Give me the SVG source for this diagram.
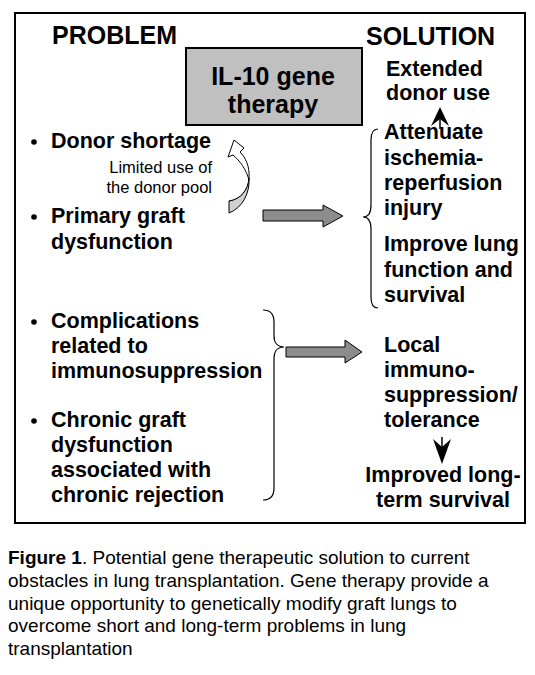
<svg xmlns="http://www.w3.org/2000/svg" width="535" height="675" viewBox="0 0 535 675">
<style>
text{font-family:"Liberation Sans",Arial,sans-serif;fill:#000}
.h{font-size:25px;font-weight:bold}
.b{font-size:21.5px;font-weight:bold}
.s{font-size:16.5px}
.c{font-size:19px}
.blk{fill:#8c8c8c;stroke:#000;stroke-width:1}
.br{fill:none;stroke:#000;stroke-width:1.2}
</style>
<rect width="535" height="675" fill="#fff"/>
<rect id="frame" x="15" y="13" width="510" height="510" fill="none" stroke="#000" stroke-width="2"/>
<g id="headings">
<text class="h" x="52" y="44">PROBLEM</text>
<text class="h" x="366" y="45">SOLUTION</text>
</g>
<g id="il10">
<rect x="186" y="48" width="176" height="77" fill="#c0c0c0" stroke="#000" stroke-width="2"/>
<text class="h" x="273" y="85" text-anchor="middle">IL-10 gene</text>
<text class="h" x="273" y="113" text-anchor="middle">therapy</text>
</g>
<g id="problem-donor">
<circle cx="34" cy="142" r="2.8"/>
<text class="b" x="51" y="148">Donor shortage</text>
<text class="s" x="212" y="173" text-anchor="end">Limited use of</text>
<text class="s" x="212" y="193" text-anchor="end">the donor pool</text>
</g>
<g id="problem-pgd">
<circle cx="34" cy="217" r="2.8"/>
<text class="b" x="51" y="223">Primary graft</text>
<text class="b" x="51" y="249">dysfunction</text>
</g>
<g id="problem-complications">
<circle cx="34" cy="322" r="2.8"/>
<text class="b" x="51" y="328">Complications</text>
<text class="b" x="51" y="353">related to</text>
<text class="b" x="51" y="378">immunosuppression</text>
</g>
<g id="problem-chronic">
<circle cx="34" cy="421" r="2.8"/>
<text class="b" x="51" y="427">Chronic graft</text>
<text class="b" x="51" y="452">dysfunction</text>
<text class="b" x="51" y="477">associated with</text>
<text class="b" x="51" y="502">chronic rejection</text>
</g>
<g id="solution-extended">
<text class="b" x="386" y="76">Extended</text>
<text class="b" x="386" y="100">donor use</text>
</g>
<g id="solution-attenuate">
<text class="b" x="384" y="139">Attenuate</text>
<text class="b" x="384" y="165">ischemia-</text>
<text class="b" x="384" y="190">reperfusion</text>
<text class="b" x="384" y="215">injury</text>
</g>
<g id="solution-improve">
<text class="b" x="384" y="251">Improve lung</text>
<text class="b" x="384" y="277">function and</text>
<text class="b" x="384" y="302">survival</text>
</g>
<g id="solution-local">
<text class="b" x="384" y="352">Local</text>
<text class="b" x="384" y="377">immuno-</text>
<text class="b" x="384" y="402">suppression/</text>
<text class="b" x="384" y="427">tolerance</text>
</g>
<g id="solution-survival">
<text class="b" x="443" y="482" text-anchor="middle">Improved long-</text>
<text class="b" x="443" y="507" text-anchor="middle">term survival</text>
</g>
<g id="connectors">
<path class="br" d="M378,129 C373,129 371,133 371,140 L371,205 C371,213 368,217 363,217 C368,217 371,221 371,229 L371,297 C371,304 373,308 378,308"/>
<path class="br" d="M263,310 C270,310 274,314 274,322 L274,336 C274,343 278,347 284,347 C278,347 274,351 274,358 L274,488 C274,496 270,500 263,500"/>
<polygon class="blk" points="263,210 323,210 323,205 343,216 323,227 323,221 263,221"/>
<polygon class="blk" points="286,347 345,347 345,340 362,352 345,363 345,357 286,357"/>
<line x1="440" y1="117" x2="440" y2="129" stroke="#000" stroke-width="1.5"/>
<polygon points="440,107 449,126 440,119 431,126" fill="#000"/>
<line x1="442" y1="437" x2="442" y2="448" stroke="#000" stroke-width="1.5"/>
<polygon points="442,464 451,439 442,447 433,439" fill="#000"/>
<path d="M229,201 C241,199 248,190 249,178 C250,194 242,208 229,213 Z" fill="#d0d0d0" stroke="#000" stroke-width="1"/>
<path d="M229,201 C241,199 248,190 249,178 C250,166 245,157 240,152 L244,148 L234,140 L228,157 L233,155 C240,161 246,169 249,180" fill="#fff" stroke="#000" stroke-width="1"/>
</g>
<g id="caption">
<text class="c" x="8" y="564"><tspan font-weight="bold">Figure 1</tspan>. Potential gene therapeutic solution to current</text>
<text class="c" x="8" y="587">obstacles in lung transplantation. Gene therapy provide a</text>
<text class="c" x="8" y="610">unique opportunity to genetically modify graft lungs to</text>
<text class="c" x="8" y="632">overcome short and long-term problems in lung</text>
<text class="c" x="8" y="655">transplantation</text>
</g>
</svg>
